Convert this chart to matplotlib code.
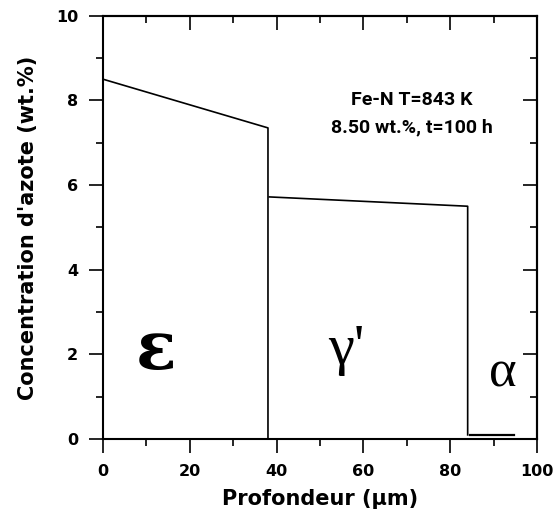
import matplotlib.pyplot as plt
from matplotlib.ticker import MultipleLocator

# Nitrogen profile per phase layer (depth in um, concentration in wt.%)
eps_x = [0, 38, 38]
eps_y = [8.5, 7.35, 0]
gam_x = [38.3, 84, 84]
gam_y = [5.72, 5.5, 0.1]
alpha_x = [84.5, 94.7]
alpha_y = [0.1, 0.1]

phase_labels = ['\u03b5', "\u03b3'", '\u03b1']
phase_x = [12.2, 56, 92]
phase_y = [2.1, 2.1, 1.55]
phase_sizes = [48, 42, 38]
phase_fonts = ['DejaVu Serif', 'Liberation Serif', 'Liberation Serif']
phase_weights = ['bold', 'normal', 'normal']

info_lines = ['Fe-N T=843 K', '8.50 wt.%, t=100 h']

fig = plt.figure(figsize=(5.58, 5.16), dpi=100)
ax = fig.add_axes([0.1846, 0.149, 0.778, 0.8206])

ax.plot(eps_x, eps_y, color='black', lw=1.2)
ax.plot(gam_x, gam_y, color='black', lw=1.2)
ax.plot(alpha_x, alpha_y, color='black', lw=1.6)

for lab, px, py, fs, fam, fw in zip(phase_labels, phase_x, phase_y,
                                    phase_sizes, phase_fonts, phase_weights):
    ax.text(px, py, lab, fontsize=fs, family=fam, fontweight=fw,
            ha='center', va='center')

ax.text(71.2, 8.0, info_lines[0], fontsize=14, fontweight='bold',
        family='Roboto', ha='center', va='center')
ax.text(71.2, 7.35, info_lines[1], fontsize=14, fontweight='bold',
        family='Roboto', ha='center', va='center')

ax.set_xlim(0, 100)
ax.set_ylim(0, 10)
ax.xaxis.set_major_locator(MultipleLocator(20))
ax.xaxis.set_minor_locator(MultipleLocator(10))
ax.yaxis.set_major_locator(MultipleLocator(2))
ax.yaxis.set_minor_locator(MultipleLocator(1))

ax.tick_params(which='both', direction='out', width=1.2, labelsize=11.5, pad=8)
ax.tick_params(which='major', length=10)
ax.tick_params(which='minor', length=5)
for lab in ax.get_xticklabels() + ax.get_yticklabels():
    lab.set_fontweight('bold')

# top/right ticks point inward
sx = ax.secondary_xaxis('top')
sx.xaxis.set_major_locator(MultipleLocator(20))
sx.xaxis.set_minor_locator(MultipleLocator(10))
sx.tick_params(which='both', direction='in', labeltop=False, width=1.2)
sx.tick_params(which='major', length=10)
sx.tick_params(which='minor', length=5)
sy = ax.secondary_yaxis('right')
sy.yaxis.set_major_locator(MultipleLocator(2))
sy.yaxis.set_minor_locator(MultipleLocator(1))
sy.tick_params(which='both', direction='in', labelright=False, width=1.2)
sy.tick_params(which='major', length=10)
sy.tick_params(which='minor', length=5)

for s in ax.spines.values():
    s.set_linewidth(1.5)
for s in list(sx.spines.values()) + list(sy.spines.values()):
    s.set_linewidth(1.5)

ax.set_xlabel('Profondeur (\u00b5m)', fontsize=15, fontweight='bold', labelpad=7)
ax.set_ylabel("Concentration d'azote (wt.%)", fontsize=15, fontweight='bold', labelpad=13)

fig.savefig('out.png', dpi=100)
